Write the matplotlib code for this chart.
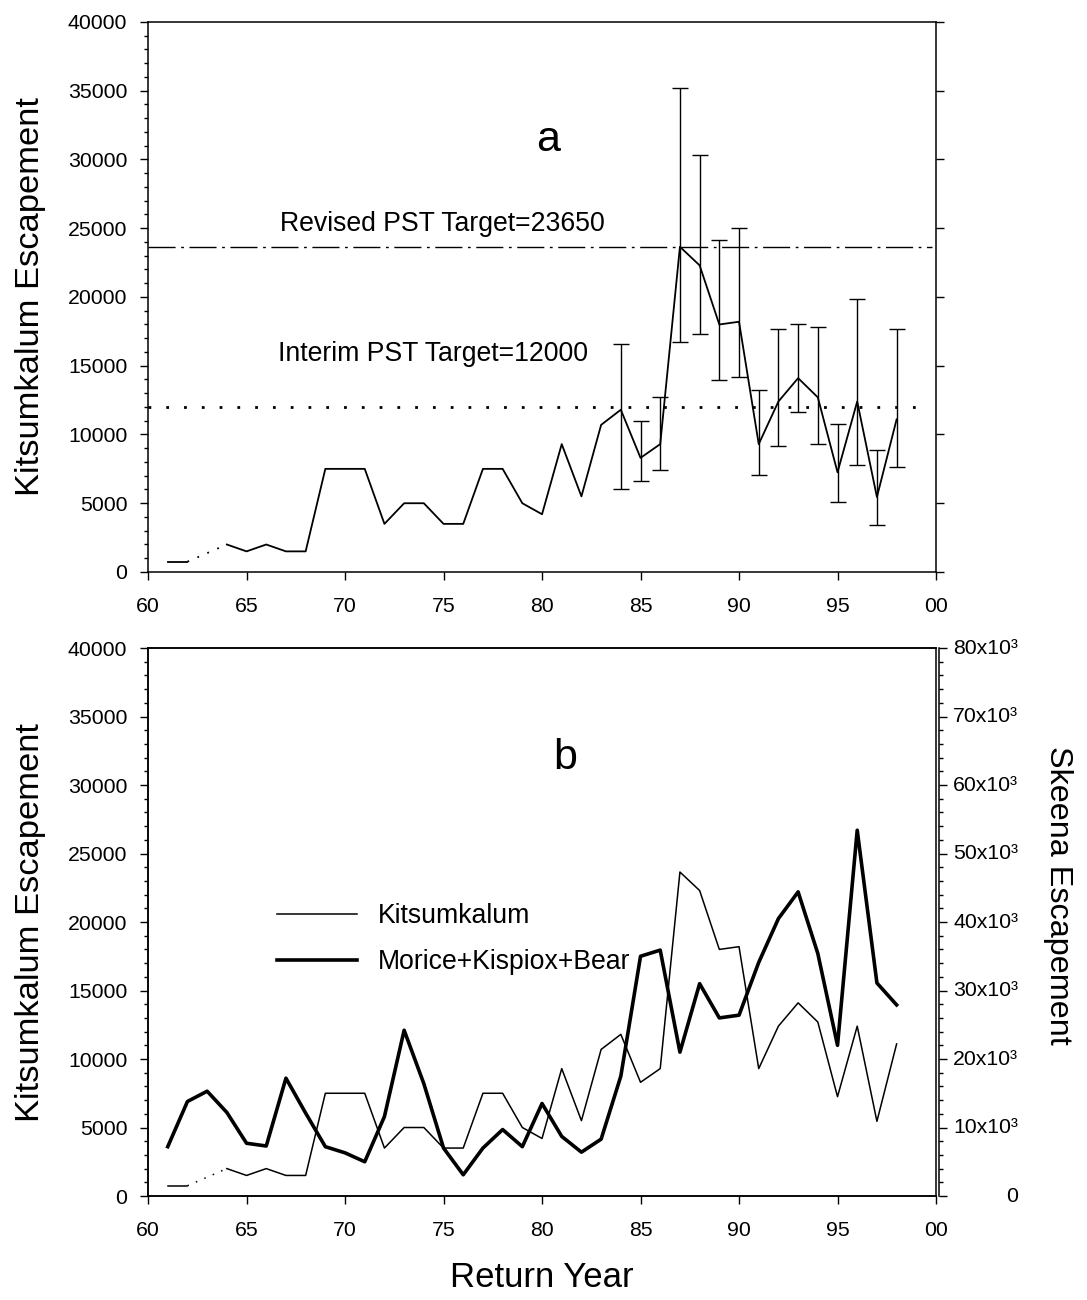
import matplotlib
matplotlib.use("Agg")
import matplotlib.pyplot as plt
import matplotlib.transforms as mtransforms
from matplotlib.ticker import MultipleLocator

plt.rcParams['font.family'] = ['Liberation Sans', 'DejaVu Sans']

# Kitsumkalum escapement (gap in 1963)
yrs_early = [61, 62]
kit_early = [750, 750]
yrs_late = [64, 65, 66, 67, 68, 69, 70, 71, 72, 73, 74, 75, 76, 77, 78, 79, 80,
            81, 82, 83, 84, 85, 86, 87, 88, 89, 90, 91, 92, 93, 94, 95, 96, 97, 98]
kit_late = [2000, 1500, 2000, 1500, 1500, 7500, 7500, 7500, 3500, 5000, 5000,
            3500, 3500, 7500, 7500, 5000, 4200, 9300, 5500, 10700, 11800, 8300,
            9300, 23650, 22300, 18000, 18200, 9300, 12400, 14100, 12700, 7250,
            12400, 5450, 11100]

# error bars 1984-1998
err_yrs = [84, 85, 86, 87, 88, 89, 90, 91, 92, 93, 94, 95, 96, 97, 98]
err_hi = [16550, 10950, 12750, 35200, 30350, 24150, 25000, 13200, 17650,
          18000, 17800, 10750, 19850, 8850, 17650]
err_lo = [6050, 6600, 7400, 16700, 17300, 13950, 14150, 7050, 9150, 11600,
          9300, 5100, 7750, 3450, 7650]

# Morice+Kispiox+Bear (Skeena)
sk_yrs = list(range(61, 99))
skeena = [7200, 13800, 15300, 12200, 7700, 7300, 17200, 12100, 7200, 6300,
          5000, 11600, 24200, 16400, 7000, 3100, 7000, 9700, 7200, 13500,
          8700, 6400, 8300, 17500, 35000, 35900, 21000, 31000, 26000, 26400,
          34100, 40500, 44400, 35400, 22000, 53400, 31100, 27900]

revised_target = 23650
interim_target = 12000

xticks = [60, 65, 70, 75, 80, 85, 90, 95, 100]
xtick_labels = ['60', '65', '70', '75', '80', '85', '90', '95', '00']
sk_ticks = [0, 10000, 20000, 30000, 40000, 50000, 60000, 70000, 80000]
sk_tick_labels = ['0', '10x10³', '20x10³', '30x10³', '40x10³',
                  '50x10³', '60x10³', '70x10³', '80x10³']

TICK_FS = 15.3
LABEL_FS = 24.8


def style_axes(ax):
    ax.set_xlim(60, 100)
    ax.set_ylim(0, 40000)
    ax.set_xticks(xticks, xtick_labels)
    ax.yaxis.set_major_locator(MultipleLocator(5000))
    ax.yaxis.set_minor_locator(MultipleLocator(1000))
    ax.tick_params(axis='both', which='both', direction='out', labelsize=TICK_FS, width=1)
    ax.tick_params(axis='both', which='major', length=6)
    ax.tick_params(axis='both', which='minor', length=3)
    ax.tick_params(axis='y', pad=9)
    ax.tick_params(axis='x', pad=12, top=False)
    for s in ax.spines.values():
        s.set_linewidth(1.1)


def plot_kit(ax, lw):
    line, = ax.plot(yrs_early, kit_early, color='black', lw=lw)
    ax.plot([yrs_early[-1], yrs_late[0]], [kit_early[-1], kit_late[0]],
            color='black', lw=lw, linestyle=(0, (1, 5)))
    ax.plot(yrs_late, kit_late, color='black', lw=lw)
    return line


fig = plt.figure(figsize=(10.87, 13), dpi=100)

# ---- panel a ----
ax1 = fig.add_axes([0.1362, 0.5600, 0.7249, 0.4231])
style_axes(ax1)
ax1.tick_params(axis='y', which='major', right=True)
ax1.tick_params(axis='y', which='minor', right=False)

plot_kit(ax1, 1.3)
err_vals = kit_late[-len(err_yrs):]
lo = [v - l for v, l in zip(err_vals, err_lo)]
hi = [h - v for v, h in zip(err_vals, err_hi)]
ax1.errorbar(err_yrs, err_vals, yerr=[lo, hi], fmt='none',
             ecolor='black', elinewidth=1, capsize=5.6, capthick=1)

ax1.plot([60, 99.8], [revised_target, revised_target], color='black', lw=1,
         linestyle=(0, (19.5, 4, 2, 4)))
ax1.plot([60, 99.1], [interim_target, interim_target], color='black', lw=2,
         linestyle=(0, (1, 5.4)))

ax1.text(66.7, 25300, f'Revised PST Target={revised_target}', fontsize=19.2, va='center')
ax1.text(66.6, 15850, f'Interim PST Target={interim_target}', fontsize=19.2, va='center')
ax1.text(0.508, 0.785, 'a', transform=ax1.transAxes, fontsize=31, ha='center', va='center')

ax1.set_ylabel('Kitsumkalum Escapement', fontsize=LABEL_FS, va='center')
ax1.yaxis.set_label_coords(-0.1497, 0.5)

# ---- panel b ----
ax2 = fig.add_axes([0.1362, 0.0800, 0.7249, 0.4215])
style_axes(ax2)
kit_line = plot_kit(ax2, 1.1)

ax3 = ax2.twinx()
ax3.set_ylim(0, 80000)
ax3.set_yticks(sk_ticks)
ax3.yaxis.set_minor_locator(MultipleLocator(2000))
ax3.tick_params(axis='y', which='both', direction='out', width=1, labelright=False)
ax3.tick_params(axis='y', which='major', length=6)
ax3.tick_params(axis='y', which='minor', length=3)
ax3.spines['right'].set_position(('outward', 2))
for s in ax3.spines.values():
    s.set_linewidth(1.1)
# right-aligned tick labels, as in the original
trans = mtransforms.blended_transform_factory(ax3.transAxes, ax3.transData)
for v, lab in zip(sk_ticks, sk_tick_labels):
    ax3.text(1.1041, v, lab, transform=trans, ha='right', va='center',
             fontsize=TICK_FS, clip_on=False)

sk_line, = ax3.plot(sk_yrs, skeena, color='black', lw=2.6)

ax2.text(0.529, 0.80, 'b', transform=ax2.transAxes, fontsize=31, ha='center', va='center')

ax2.set_ylabel('Kitsumkalum Escapement', fontsize=LABEL_FS, va='center')
ax2.yaxis.set_label_coords(-0.1497, 0.5)
ax3.set_ylabel('Skeena Escapement', fontsize=23.3, rotation=270, va='center')
ax3.yaxis.set_label_coords(1.1548, 0.549)
ax2.set_xlabel('Return Year', fontsize=25, va='center')
ax2.xaxis.set_label_coords(0.5, -0.1496)

ax3.legend([kit_line, sk_line], ['Kitsumkalum', 'Morice+Kispiox+Bear'],
           loc='upper left', bbox_to_anchor=(0.1637, 0.535), frameon=False,
           fontsize=19.2, handlelength=3.0, handletextpad=0.77, labelspacing=0.77,
           borderpad=0, borderaxespad=0)

fig.savefig('out.png', dpi=100)
